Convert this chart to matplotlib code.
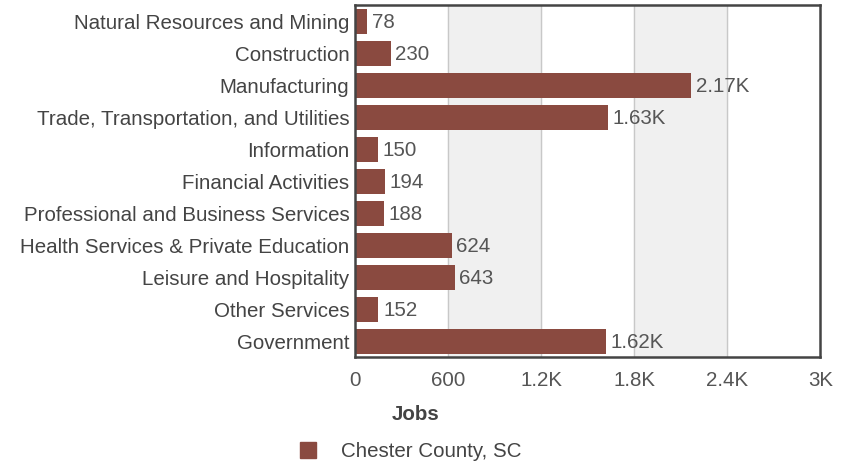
import matplotlib.pyplot as plt
from matplotlib.patches import Patch

categories = [
    "Natural Resources and Mining",
    "Construction",
    "Manufacturing",
    "Trade, Transportation, and Utilities",
    "Information",
    "Financial Activities",
    "Professional and Business Services",
    "Health Services & Private Education",
    "Leisure and Hospitality",
    "Other Services",
    "Government",
]
jobs = [78, 230, 2170, 1630, 150, 194, 188, 624, 643, 152, 1620]
value_labels = ["78", "230", "2.17K", "1.63K", "150", "194", "188", "624", "643", "152", "1.62K"]
x_ticks = [0, 600, 1200, 1800, 2400, 3000]
x_tick_labels = ["0", "600", "1.2K", "1.8K", "2.4K", "3K"]

plt.rcParams['font.family'] = ['Liberation Sans', 'DejaVu Sans']
bar_color = "#8a4a40"
text_color = "#555555"
fs = 14.8

fig = plt.figure(figsize=(8.43, 4.65), dpi=100)
ax = fig.add_axes([0.421, 0.232, 0.552, 0.757])

# alternating bands
for i in range(len(x_ticks) - 1):
    if i % 2 == 1:
        ax.axvspan(x_ticks[i], x_ticks[i + 1], color="#f0f0f0", zorder=0)
for t in x_ticks[1:-1]:
    ax.axvline(t, color="#c8c8c8", linewidth=1, zorder=1)

y = list(range(len(categories)))
ax.barh(y, jobs, height=0.78, color=bar_color, zorder=2)
for yi, v, lab in zip(y, jobs, value_labels):
    ax.text(v + 30, yi + 0.05, lab, va="center", ha="left", fontsize=fs, color=text_color, zorder=3)

ax.set_xlim(0, 3000)
ax.set_ylim(len(categories) - 0.5, -0.5)
ax.set_yticks(y)
ax.set_yticklabels(categories, fontsize=fs, color="#444444")
ax.set_xticks(x_ticks)
ax.set_xticklabels(x_tick_labels, fontsize=fs, color=text_color)
ax.tick_params(length=0, pad=4)
ax.tick_params(axis='x', pad=10)
for s in ax.spines.values():
    s.set_color("#444444")
    s.set_linewidth(1.8)

ax.set_xlabel("Jobs", fontsize=fs, fontweight="bold", color="#444444")
ax.xaxis.set_label_coords(0.13, -0.135)

handle = Patch(facecolor=bar_color, edgecolor=bar_color)
fig.legend([handle], ["Chester County, SC"], loc="center", bbox_to_anchor=(0.487, 0.028),
           frameon=False, fontsize=fs, handlelength=0.8, handleheight=0.8,
           handletextpad=1.2, labelcolor="#444444")

fig.savefig("out.png", dpi=100)
